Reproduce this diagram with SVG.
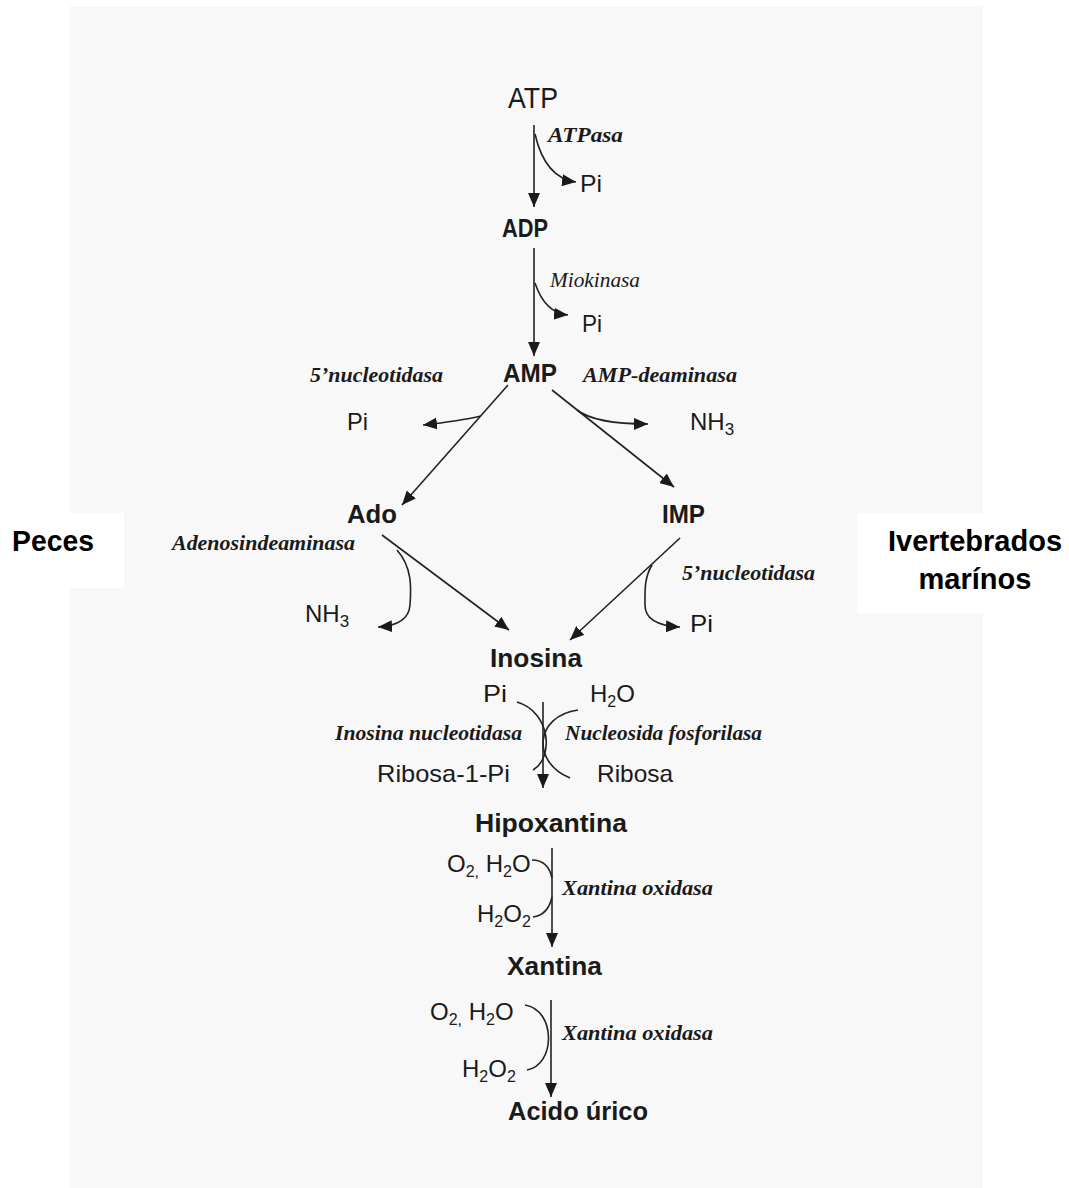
<svg xmlns="http://www.w3.org/2000/svg" width="1069" height="1188" viewBox="0 0 1069 1188">
<style>
.lbl{font-family:"Liberation Sans",Arial,sans-serif;fill:#1a1a1a;font-size:25px;font-weight:bold}
.sm{font-family:"Liberation Sans",Arial,sans-serif;fill:#1a1a1a;font-size:24px}
.enz{font-family:"Liberation Serif","Times New Roman",serif;fill:#1a1a1a;font-size:20px;font-style:italic;font-weight:bold}
.side{font-family:"Liberation Sans",Arial,sans-serif;fill:#000;font-size:29px;font-weight:bold}
.ln{fill:none;stroke:#222;stroke-width:1.6}
</style>
<defs>
<marker id="ah" viewBox="0 0 14 12" refX="14" refY="6" markerWidth="14" markerHeight="12" orient="auto" markerUnits="userSpaceOnUse">
<path d="M0,0 L14,6 L0,12 z" fill="#1a1a1a"/>
</marker>
</defs>
<rect x="0" y="0" width="1069" height="1188" fill="#ffffff"/>
<rect x="70" y="6" width="913" height="1182" fill="#f8f8f8"/>
<rect x="0" y="513" width="124" height="75" fill="#ffffff"/>
<rect x="857" y="513" width="212" height="100" fill="#ffffff"/>

<g id="connectors">
<path class="ln" d="M534,125 L534,207" marker-end="url(#ah)"/>
<path class="ln" d="M535,134 Q545,178 576,182" marker-end="url(#ah)"/>
<path class="ln" d="M534,248 L534,356" marker-end="url(#ah)"/>
<path class="ln" d="M535,283 Q545,313 568,315" marker-end="url(#ah)"/>
<path class="ln" d="M508,385 L402,505" marker-end="url(#ah)"/>
<path class="ln" d="M481,416 Q460,421 423,425" marker-end="url(#ah)"/>
<path class="ln" d="M552,390 L674,487" marker-end="url(#ah)"/>
<path class="ln" d="M577,410 Q595,424 648,424" marker-end="url(#ah)"/>
<path class="ln" d="M382,535 L509,630" marker-end="url(#ah)"/>
<path class="ln" d="M397,550 C413,568 411,590 410,605 C409,620 395,626 378,627" marker-end="url(#ah)"/>
<path class="ln" d="M680,538 L570,640" marker-end="url(#ah)"/>
<path class="ln" d="M652,565 C644,578 645,592 645,605 C645,620 660,626 680,627" marker-end="url(#ah)"/>
<path class="ln" d="M543,702 L543,788" marker-end="url(#ah)"/>
<path class="ln" d="M517,702 C551,712 554,758 533,770"/>
<path class="ln" d="M578,710 C535,716 531,762 570,778"/>
<path class="ln" d="M552,848 L552,947" marker-end="url(#ah)"/>
<path class="ln" d="M532,860 Q548,860 552,878"/>
<path class="ln" d="M552,897 Q548,915 533,917"/>
<path class="ln" d="M551,1000 L551,1097" marker-end="url(#ah)"/>
<path class="ln" d="M525,1005 C556,1010 556,1065 527,1070"/>
</g>

<g id="n-atp"><text class="sm" x="508" y="108" style="font-size:30px" textLength="50" lengthAdjust="spacingAndGlyphs">ATP</text></g>
<g id="n-adp"><text class="lbl" x="502" y="237" style="font-size:26px" textLength="46" lengthAdjust="spacingAndGlyphs">ADP</text></g>
<g id="n-amp"><text class="lbl" x="503" y="382" textLength="54" lengthAdjust="spacingAndGlyphs">AMP</text></g>
<g id="n-ado"><text class="lbl" x="347" y="523" textLength="50" lengthAdjust="spacingAndGlyphs">Ado</text></g>
<g id="n-imp"><text class="lbl" x="662" y="523" textLength="43" lengthAdjust="spacingAndGlyphs">IMP</text></g>
<g id="n-inosina"><text class="lbl" x="490" y="667" style="font-size:26px" textLength="92" lengthAdjust="spacingAndGlyphs">Inosina</text></g>
<g id="n-hipoxantina"><text class="lbl" x="475" y="832" textLength="152" lengthAdjust="spacingAndGlyphs">Hipoxantina</text></g>
<g id="n-xantina"><text class="lbl" x="507" y="975" textLength="95" lengthAdjust="spacingAndGlyphs">Xantina</text></g>
<g id="n-acido"><text class="lbl" x="508" y="1120" textLength="140" lengthAdjust="spacingAndGlyphs">Acido úrico</text></g>

<g id="n-pi1"><text class="sm" x="580" y="192" textLength="22" lengthAdjust="spacingAndGlyphs">Pi</text></g>
<g id="n-pi2"><text class="sm" x="582" y="332" textLength="20" lengthAdjust="spacingAndGlyphs">Pi</text></g>
<g id="n-pi3"><text class="sm" x="347" y="430" textLength="21" lengthAdjust="spacingAndGlyphs">Pi</text></g>
<g id="n-nh3a"><text class="sm" x="690" y="430">NH<tspan dy="5" font-size="17">3</tspan></text></g>
<g id="n-nh3b"><text class="sm" x="305" y="622">NH<tspan dy="5" font-size="17">3</tspan></text></g>
<g id="n-pi4"><text class="sm" x="690" y="632" textLength="23" lengthAdjust="spacingAndGlyphs">Pi</text></g>
<g id="n-pi5"><text class="sm" x="483" y="702" textLength="24" lengthAdjust="spacingAndGlyphs">Pi</text></g>
<g id="n-h2o"><text class="sm" x="590" y="702">H<tspan dy="5" font-size="16">2</tspan><tspan dy="-5">O</tspan></text></g>
<g id="n-ribosa1pi"><text class="sm" x="377" y="782" textLength="133" lengthAdjust="spacingAndGlyphs">Ribosa-1-Pi</text></g>
<g id="n-ribosa"><text class="sm" x="597" y="782" textLength="76" lengthAdjust="spacingAndGlyphs">Ribosa</text></g>
<g id="n-o2h2o-1"><text class="sm" x="447" y="872">O<tspan dy="5" font-size="16">2,</tspan><tspan dy="-5"> H</tspan><tspan dy="5" font-size="16">2</tspan><tspan dy="-5">O</tspan></text></g>
<g id="n-h2o2-1"><text class="sm" x="477" y="922">H<tspan dy="5" font-size="16">2</tspan><tspan dy="-5">O</tspan><tspan dy="5" font-size="16">2</tspan></text></g>
<g id="n-o2h2o-2"><text class="sm" x="430" y="1020">O<tspan dy="5" font-size="16">2,</tspan><tspan dy="-5"> H</tspan><tspan dy="5" font-size="16">2</tspan><tspan dy="-5">O</tspan></text></g>
<g id="n-h2o2-2"><text class="sm" x="462" y="1077">H<tspan dy="5" font-size="16">2</tspan><tspan dy="-5">O</tspan><tspan dy="5" font-size="16">2</tspan></text></g>

<g id="e-atpasa"><text class="enz" x="548" y="142" style="font-size:21px" textLength="75" lengthAdjust="spacingAndGlyphs">ATPasa</text></g>
<g id="e-miokinasa"><text class="enz" x="550" y="287" style="font-weight:normal" textLength="90" lengthAdjust="spacingAndGlyphs">Miokinasa</text></g>
<g id="e-5nuc-left"><text class="enz" x="310" y="382" textLength="133" lengthAdjust="spacingAndGlyphs">5’nucleotidasa</text></g>
<g id="e-ampdeam"><text class="enz" x="583" y="382" textLength="154" lengthAdjust="spacingAndGlyphs">AMP-deaminasa</text></g>
<g id="e-adenosin"><text class="enz" x="172" y="550" textLength="183" lengthAdjust="spacingAndGlyphs">Adenosindeaminasa</text></g>
<g id="e-5nuc-right"><text class="enz" x="682" y="580" textLength="133" lengthAdjust="spacingAndGlyphs">5’nucleotidasa</text></g>
<g id="e-inosnuc"><text class="enz" x="335" y="740" textLength="187" lengthAdjust="spacingAndGlyphs">Inosina nucleotidasa</text></g>
<g id="e-nucfos"><text class="enz" x="565" y="740" textLength="197" lengthAdjust="spacingAndGlyphs">Nucleosida fosforilasa</text></g>
<g id="e-xo1"><text class="enz" x="562" y="895" textLength="151" lengthAdjust="spacingAndGlyphs">Xantina oxidasa</text></g>
<g id="e-xo2"><text class="enz" x="562" y="1040" textLength="151" lengthAdjust="spacingAndGlyphs">Xantina oxidasa</text></g>

<g id="peces"><text class="side" x="12" y="551" textLength="82" lengthAdjust="spacingAndGlyphs">Peces</text></g>
<g id="invertebrados"><text class="side" x="975" y="551" text-anchor="middle">Ivertebrados</text><text class="side" x="975" y="589" text-anchor="middle">marínos</text></g>
</svg>
